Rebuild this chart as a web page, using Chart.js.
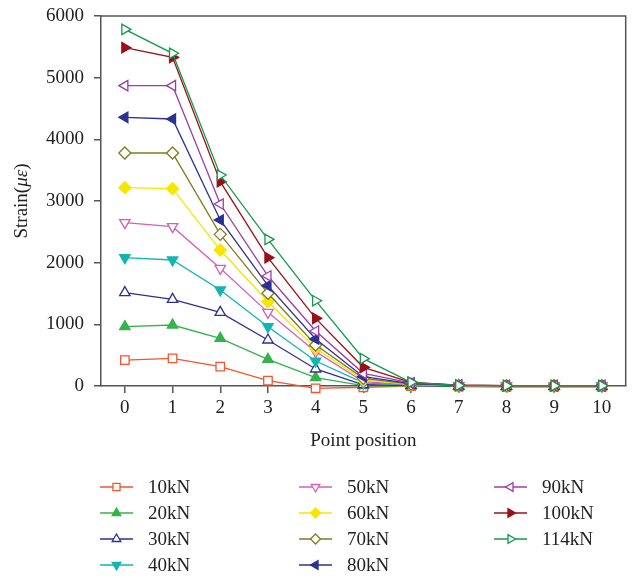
<!DOCTYPE html>
<html>
<head>
<meta charset="utf-8">
<script src="https://cdn.jsdelivr.net/npm/chart.js@4/dist/chart.umd.min.js"></script>
<style>
  html, body { margin: 0; padding: 0; background: #fff; }
  #wrap { width: 633px; height: 578px; }
</style>
</head>
<body>
<div id="wrap"><canvas id="strainChart" width="633" height="578"></canvas></div>
<script>
// point positions along the member
const positions = [0, 1, 2, 3, 4, 5, 6, 7, 8, 9, 10];
const yTicks = [0, 1000, 2000, 3000, 4000, 5000, 6000];

// strain (micro-strain) at each point, one array per load step
const load10 = [421, 449, 314, 86, -37, -20, 0, -10, -15, -15, -15];
const load20 = [962, 989, 773, 432, 135, 5, 0, -5, -10, -10, -10];
const load30 = [1514, 1405, 1194, 746, 276, 20, 10, 0, -5, -5, -5];
const load40 = [2081, 2043, 1557, 962, 405, 50, 15, 5, 0, 0, 0];
const load50 = [2649, 2584, 1908, 1194, 557, 70, 20, 5, 0, 0, 0];
const load60 = [3216, 3200, 2205, 1367, 611, 97, 25, 5, 0, 0, 0];
const load70 = [3778, 3778, 2459, 1503, 665, 124, 30, 10, 5, 5, 5];
const load80 = [4357, 4330, 2692, 1627, 762, 151, 40, 10, 5, 5, 5];
const load90 = [4870, 4870, 2951, 1784, 892, 205, 50, 15, 5, 5, 5];
const load100 = [5486, 5330, 3313, 2081, 1097, 303, 60, 15, 5, 5, 5];
const load114 = [5784, 5395, 3421, 2378, 1383, 443, 60, 10, 5, 5, 5];

const seriesNames = ['10kN', '20kN', '30kN', '40kN', '50kN', '60kN', '70kN', '80kN', '90kN', '100kN', '114kN'];
const seriesData = [load10, load20, load30, load40, load50, load60, load70, load80, load90, load100, load114];

// colour, marker, rotation, filled?
const styles = [
  ['#f2552f', 'rect', 0, false],
  ['#35b34a', 'triangle', 0, true],
  ['#2f2f8f', 'triangle', 0, false],
  ['#12b5b0', 'triangle', 180, true],
  ['#d560b4', 'triangle', 180, false],
  ['#f7e600', 'rectRot', 0, true],
  ['#7d7d1e', 'rectRot', 0, false],
  ['#2b3190', 'triangle', 270, true],
  ['#9c3ca6', 'triangle', 270, false],
  ['#9b1016', 'triangle', 90, true],
  ['#14994e', 'triangle', 90, false]
];

const datasets = seriesData.map(function(vals, i) {
  const s = styles[i];
  return {
    label: seriesNames[i],
    data: vals.map(function(v, j) { return { x: positions[j], y: v }; }),
    borderColor: s[0],
    backgroundColor: s[3] ? s[0] : '#ffffff',
    pointStyle: s[1],
    pointRotation: s[2],
    pointRadius: 6,
    pointBorderWidth: 1.3,
    borderWidth: 1.3,
    showLine: true,
    tension: 0,
    clip: false,
    // later load steps are drawn over earlier ones
    order: seriesData.length - i
  };
});

const FONT = '"Liberation Serif", "DejaVu Serif", serif';
const FSIZE = 19;

// frame, y title and three-column legend
const extras = {
  id: 'extras',
  afterDraw: function(chart) {
    const ctx = chart.ctx;
    const a = chart.chartArea;
    ctx.save();
    ctx.strokeStyle = '#555';
    ctx.lineWidth = 1.5;
    ctx.beginPath();
    ctx.moveTo(a.left, a.top);
    ctx.lineTo(a.right, a.top);
    ctx.lineTo(a.right, a.bottom);
    ctx.stroke();

    // y axis title with italic symbols
    ctx.translate(22, (a.top + a.bottom) / 2);
    ctx.rotate(-Math.PI / 2);
    ctx.fillStyle = '#222';
    ctx.textBaseline = 'middle';
    const parts = [['Strain(', 'normal'], ['με', 'italic'], [')', 'normal']];
    let total = 0;
    parts.forEach(function(p) {
      ctx.font = p[1] + ' ' + FSIZE + 'px ' + FONT;
      total += ctx.measureText(p[0]).width;
    });
    let x = -total / 2;
    parts.forEach(function(p) {
      ctx.font = p[1] + ' ' + FSIZE + 'px ' + FONT;
      ctx.fillText(p[0], x, 0);
      x += ctx.measureText(p[0]).width;
    });
    ctx.restore();

    // legend
    ctx.save();
    const colX = [100, 299, 494];
    const rowY = [487, 513, 539, 565];
    chart.data.datasets.forEach(function(ds, i) {
      const cx = colX[Math.floor(i / 4)];
      const cy = rowY[i % 4];
      ctx.strokeStyle = ds.borderColor;
      ctx.lineWidth = 1.3;
      ctx.beginPath();
      ctx.moveTo(cx, cy);
      ctx.lineTo(cx + 33, cy);
      ctx.stroke();
      ctx.fillStyle = ds.backgroundColor;
      Chart.helpers.drawPoint(ctx, {
        pointStyle: ds.pointStyle,
        rotation: ds.pointRotation,
        radius: 5,
        borderWidth: 1.3
      }, cx + 16.5, cy);
      ctx.fillStyle = '#222';
      ctx.font = FSIZE + 'px ' + FONT;
      ctx.textBaseline = 'middle';
      ctx.fillText(ds.label, cx + 48, cy + 1);
    });
    ctx.restore();
  }
};

new Chart(document.getElementById('strainChart'), {
  type: 'scatter',
  data: { datasets: datasets },
  options: {
    responsive: false,
    animation: false,
    layout: { padding: { top: 16, right: 2, bottom: 122, left: 0 } },
    plugins: {
      legend: { display: false },
      tooltip: { enabled: false }
    },
    scales: {
      x: {
        type: 'linear',
        min: -0.5,
        max: 10.5,
        afterBuildTicks: function(scale) {
          scale.ticks = positions.map(function(v) { return { value: v }; });
        },
        afterFit: function(scale) {
          scale.height = 70;
          scale.paddingLeft = 0;
          scale.paddingRight = 0;
        },
        grid: { drawOnChartArea: false, drawTicks: true, tickLength: 7, color: '#555', lineWidth: 1.5 },
        border: { color: '#555', width: 1.5 },
        ticks: { color: '#222', font: { family: FONT, size: FSIZE }, padding: 4,
          callback: function(v) { return String(v); } },
        title: { display: true, text: 'Point position', color: '#222', font: { family: FONT, size: FSIZE }, padding: { top: 4 } }
      },
      y: {
        min: 0,
        max: 6000,
        afterBuildTicks: function(scale) {
          scale.ticks = yTicks.map(function(v) { return { value: v }; });
        },
        afterFit: function(scale) {
          scale.width = 101;
          scale.paddingTop = 0;
          scale.paddingBottom = 0;
        },
        grid: { drawOnChartArea: false, drawTicks: true, tickLength: 7, color: '#555', lineWidth: 1.5 },
        border: { color: '#555', width: 1.5 },
        ticks: { color: '#222', font: { family: FONT, size: FSIZE }, padding: 10,
          callback: function(v) { return String(v); } }
      }
    }
  },
  plugins: [extras]
});
</script>
</body>
</html>
